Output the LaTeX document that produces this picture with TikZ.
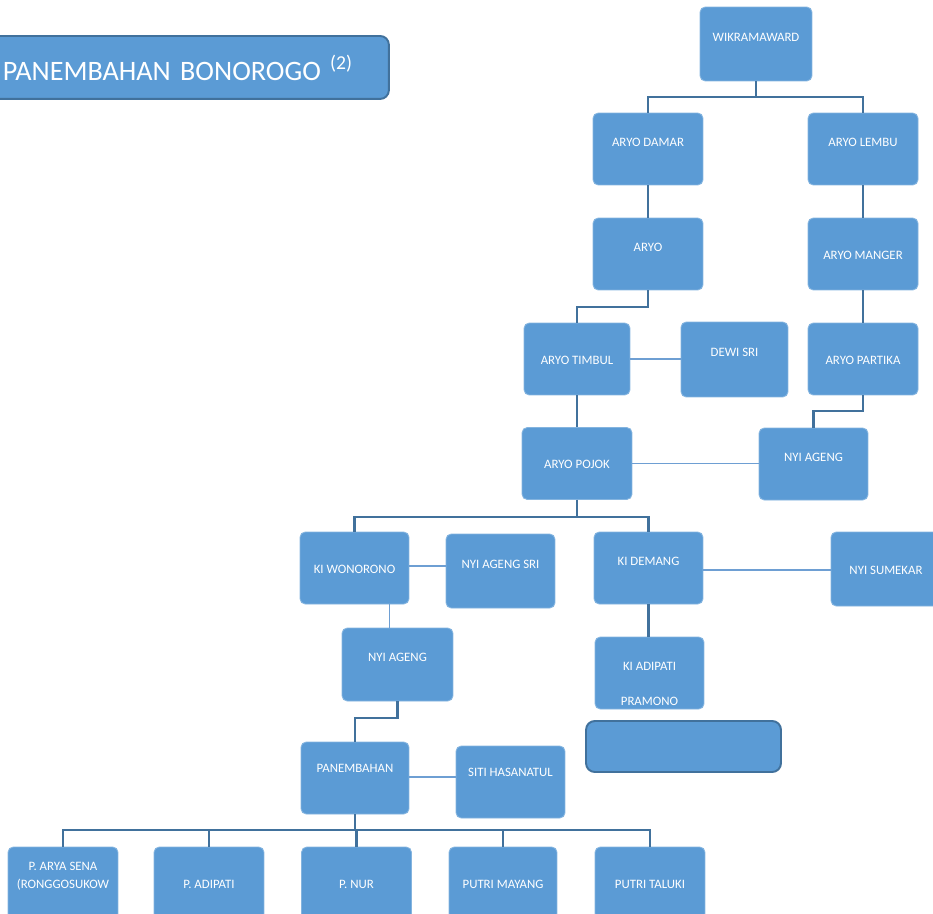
\documentclass[tikz,border=0pt]{standalone}
\usepackage{fontspec}
\setmainfont{Carlito}
\usetikzlibrary{positioning}
\usepackage{xcolor}

\definecolor{boxblue}{HTML}{5B9BD5}
\definecolor{linkblue}{HTML}{41719C}
\definecolor{wedblue}{HTML}{6E9FD3}

\tikzset{
    person/.style={rectangle, rounded corners=3pt, draw=boxblue!75!white, line width=0.5pt,
        fill=boxblue, text=white, font=\fontsize{7.3}{9}\selectfont, inner sep=0pt,
        minimum width=2.2cm, minimum height=1.44cm, text height=0.16cm, text depth=0.28cm},
    midtext/.style={text height=0.2cm, text depth=0cm},
    kid/.style={person, midtext},
    headbox/.style={rectangle, rounded corners=5pt, draw=linkblue, line width=1.1pt, fill=boxblue},
    link/.style={draw=linkblue, line width=1.2pt},
    wed/.style={draw=wedblue, line width=0.8pt}
}

\begin{document}
\begin{tikzpicture}[x=0.02cm, y=-0.02cm]
    \useasboundingbox (0,0) rectangle (933,913);

    % Title box
    \node[headbox, anchor=north west, minimum height=1.26cm, text width=7.28cm, inner xsep=0.44cm,
        align=left, text=white, font=\fontsize{16}{19}\selectfont] (title) at (-20,35)
        {PANEMBAHAN BONOROGO \textsuperscript{(2)}};

    % Top of the tree
    \node[person, minimum width=2.24cm, minimum height=1.48cm] (wik) at (756,44) {WIKRAMAWARD};
    \node[person] (damar) at (648,149) {ARYO DAMAR};
    \node[person] (lembu) at (863,149) {ARYO LEMBU};
    \node[person] (aryo) at (648,254) {ARYO};
    \node[person, midtext] (manger) at (863,254) {ARYO MANGER};
    \node[person, midtext, minimum width=2.12cm] (timbul) at (577,359) {ARYO TIMBUL};
    \node[person, minimum width=2.14cm, minimum height=1.5cm] (dewi) at (734.5,359.5) {DEWI SRI};
    \node[person, midtext] (partika) at (863,359) {ARYO PARTIKA};
    \node[person, midtext] (pojok) at (577,463.5) {ARYO POJOK};
    \node[person, minimum width=2.18cm] (nyiageng) at (813.5,464) {NYI AGENG};

    % Middle generations
    \node[person, midtext, minimum width=2.18cm] (wonorono) at (354.5,568) {KI WONORONO};
    \node[person, minimum width=2.18cm, minimum height=1.48cm] (agengsri) at (500.5,571) {NYI AGENG SRI};
    \node[person, minimum width=2.18cm] (demang) at (648.5,568) {KI DEMANG};
    \node[person, midtext, minimum height=1.48cm] (sumekar) at (886,569) {NYI SUMEKAR};
    \node[person, minimum width=2.22cm, minimum height=1.46cm] (nyiageng2) at (397.5,664.5) {NYI AGENG};
    \node[person, minimum width=2.18cm, align=center, text height=1.28cm, text depth=0cm] (adipati)
        at (649.5,673) {KI ADIPATI\\[0.38cm]PRAMONO};
    \node[headbox, minimum width=3.9cm, minimum height=1.02cm] (blank) at (683.5,746.5) {};
    \node[person, minimum width=2.16cm, text depth=0.4cm] (panembahan) at (355,778) {PANEMBAHAN};
    \node[person, minimum width=2.18cm, text depth=0.38cm] (siti) at (510.5,782) {SITI HASANATUL};

    % Children of Panembahan
    \node[kid, align=center] (sena) at (63,883) {P. ARYA SENA\\[0.04cm](RONGGOSUKOW};
    \node[kid] (padipati) at (209,883) {P. ADIPATI};
    \node[kid] (nur) at (356.5,883) {P. NUR};
    \node[kid, minimum width=2.16cm] (mayang) at (503,883) {PUTRI MAYANG};
    \node[kid] (taluki) at (650,883) {PUTRI TALUKI};

    % Descent lines
    \draw[link] (wik.south) -- ++(0,16) -| (damar.north);
    \draw[link] (wik.south) -- ++(0,16) -| (lembu.north);
    \draw[link] (damar) -- (aryo);
    \draw[link] (lembu) -- (manger);
    \draw[link] (aryo.south) -- ++(0,17) -| (timbul.north);
    \draw[link] (manger) -- (partika);
    \draw[link] (timbul) -- (pojok);
    \draw[link] (partika.south) -- ++(0,16) -| (nyiageng.north);
    \draw[link] (pojok.south) -- ++(0,17) -| (wonorono.north);
    \draw[link] (pojok.south) -- ++(0,17) -| (demang.north);
    \draw[link] (demang.south) -- (demang.south |- adipati.north);
    \draw[link] (nyiageng2.south) -- ++(0,17) -| (panembahan.north);
    \foreach \k in {sena, padipati, nur, mayang, taluki}
        \draw[link] (panembahan.south) -- ++(0,16) -| (\k.north);

    % Marriage lines
    \draw[wed] (timbul.east) -- (timbul.east -| dewi.west);
    \draw[wed] (pojok.east) -- (pojok.east -| nyiageng.west);
    \draw[wed] ([yshift=0.04cm]wonorono.east) -- ([yshift=0.04cm]wonorono.east -| agengsri.west);
    \draw[wed] ([yshift=-0.04cm]demang.east) -- ([yshift=-0.04cm]demang.east -| sumekar.west);
    \draw[wed] ([xshift=-0.16cm]nyiageng2.north) -- ([xshift=-0.16cm]nyiageng2.north |- wonorono.south);
    \draw[wed] ([yshift=0.02cm]panembahan.east) -- ([yshift=0.02cm]panembahan.east -| siti.west);
\end{tikzpicture}
\end{document}
